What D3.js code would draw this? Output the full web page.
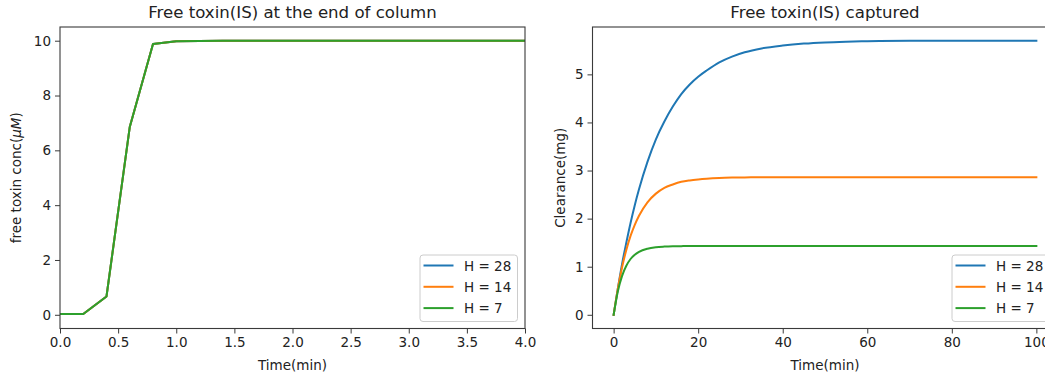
<!DOCTYPE html>
<html>
<head>
<meta charset="utf-8">
<script src="https://cdn.jsdelivr.net/npm/d3@7"></script>
<style>
  html, body { margin: 0; padding: 0; background: #fff; }
  svg { display: block; font-family: "DejaVu Sans", sans-serif; }
</style>
</head>
<body>
<svg id="chart" width="1045" height="377"></svg>
<script>
// ---------------- data ----------------
const seriesNames = ["H = 28", "H = 14", "H = 7"];
const seriesColors = ["#1f77b4", "#ff7f0e", "#2ca02c"];

// Left panel: free toxin concentration at the end of column
const leftTime = [0, 0.2, 0.4, 0.6, 0.8, 1.0, 1.2, 1.4, 1.6, 1.8, 2.0, 2.2, 2.4, 2.6, 2.8, 3.0, 3.2, 3.4, 3.6, 3.8, 4.0];
const leftH28 = [0.03, 0.03, 0.67, 6.85, 9.88, 9.98, 9.99, 10.0, 10.0, 10.0, 10.0, 10.0, 10.0, 10.0, 10.0, 10.0, 10.0, 10.0, 10.0, 10.0, 10.0];
const leftH14 = [0.03, 0.03, 0.67, 6.85, 9.88, 9.98, 9.99, 10.0, 10.0, 10.0, 10.0, 10.0, 10.0, 10.0, 10.0, 10.0, 10.0, 10.0, 10.0, 10.0, 10.0];
const leftH7  = [0.03, 0.03, 0.67, 6.85, 9.88, 9.98, 9.99, 10.0, 10.0, 10.0, 10.0, 10.0, 10.0, 10.0, 10.0, 10.0, 10.0, 10.0, 10.0, 10.0, 10.0];
const leftXTicks = [0, 0.5, 1.0, 1.5, 2.0, 2.5, 3.0, 3.5, 4.0];
const leftYTicks = [0, 2, 4, 6, 8, 10];

// Right panel: free toxin captured (clearance)
const rightTime = [0, 1, 2, 3, 4, 5, 6, 8, 10, 12, 14, 16, 18, 20, 22, 25, 28, 31, 35, 40, 45, 50, 55, 60, 70, 80, 90, 100];
const clearH28 = [0, 0.55, 1.06, 1.50, 1.91, 2.28, 2.61, 3.18, 3.65, 4.02, 4.33, 4.59, 4.79, 4.95, 5.08, 5.25, 5.37, 5.46, 5.54, 5.60, 5.64, 5.665, 5.68, 5.69, 5.70, 5.70, 5.70, 5.70];
const clearH14 = [0, 0.55, 0.99, 1.35, 1.64, 1.87, 2.06, 2.34, 2.52, 2.64, 2.71, 2.765, 2.795, 2.815, 2.83, 2.845, 2.853, 2.857, 2.86, 2.86, 2.86, 2.86, 2.86, 2.86, 2.86, 2.86, 2.86, 2.86];
const clearH7  = [0, 0.49, 0.81, 1.02, 1.16, 1.25, 1.31, 1.375, 1.405, 1.418, 1.425, 1.428, 1.43, 1.43, 1.43, 1.43, 1.43, 1.43, 1.43, 1.43, 1.43, 1.43, 1.43, 1.43, 1.43, 1.43, 1.43, 1.43];
const rightXTicks = [0, 20, 40, 60, 80, 100];
const rightYTicks = [0, 1, 2, 3, 4, 5];

// ---------------- drawing ----------------
const svg = d3.select("#chart");
const TICK_FS = 13.5, TITLE_FS = 16.6;
const textColor = "#222222", spineColor = "#3a3a3a";

function panel(cfg) {
  const g = svg.append("g");
  const x = d3.scaleLinear().domain(cfg.xDomain).range([cfg.left, cfg.right]);
  const y = d3.scaleLinear().domain(cfg.yDomain).range([cfg.bottom, cfg.top]);

  const clipId = "clip" + cfg.id;
  svg.append("clipPath").attr("id", clipId).append("rect")
    .attr("x", cfg.left).attr("y", cfg.top)
    .attr("width", cfg.right - cfg.left).attr("height", cfg.bottom - cfg.top);

  // lines
  const line = d3.line().x(d => x(d[0])).y(d => y(d[1])).curve(cfg.curve);
  cfg.series.forEach((vals, i) => {
    g.append("path")
      .datum(cfg.xs.map((t, k) => [t, vals[k]]))
      .attr("clip-path", `url(#${clipId})`)
      .attr("fill", "none")
      .attr("stroke", seriesColors[i])
      .attr("stroke-width", 2)
      .attr("stroke-linejoin", "round")
      .attr("stroke-linecap", "square")
      .attr("d", line);
  });

  // axes
  const xa = g.append("g").attr("transform", `translate(0,${cfg.bottom})`)
    .call(d3.axisBottom(x).tickValues(cfg.xTicks).tickFormat(cfg.xFmt).tickSize(5).tickPadding(4));
  const ya = g.append("g").attr("transform", `translate(${cfg.left},0)`)
    .call(d3.axisLeft(y).tickValues(cfg.yTicks).tickFormat(cfg.yFmt).tickSize(5).tickPadding(4));
  [xa, ya].forEach(a => {
    a.select(".domain").remove();
    a.selectAll(".tick line").attr("stroke", spineColor).attr("stroke-width", 1);
    a.selectAll(".tick text").attr("font-size", TICK_FS).attr("font-family", "DejaVu Sans").attr("fill", textColor);
  });

  // frame
  g.append("rect")
    .attr("x", cfg.left).attr("y", cfg.top)
    .attr("width", cfg.right - cfg.left).attr("height", cfg.bottom - cfg.top)
    .attr("fill", "none").attr("stroke", spineColor).attr("stroke-width", 1.1);

  // title
  g.append("text")
    .attr("x", (cfg.left + cfg.right) / 2).attr("y", 18)
    .attr("text-anchor", "middle").attr("font-size", TITLE_FS).attr("fill", textColor)
    .text(cfg.title);

  // x label
  g.append("text")
    .attr("x", (cfg.left + cfg.right) / 2).attr("y", 369.5)
    .attr("text-anchor", "middle").attr("font-size", TICK_FS).attr("fill", textColor)
    .text("Time(min)");

  // y label
  const yl = g.append("text")
    .attr("transform", `translate(${cfg.yLabelX},${(cfg.top + cfg.bottom) / 2}) rotate(-90)`)
    .attr("text-anchor", "middle").attr("font-size", TICK_FS).attr("fill", textColor);
  cfg.yLabel.forEach(part => {
    yl.append("tspan").attr("font-style", part.italic ? "italic" : "normal").text(part.t);
  });

  // legend
  const lg = g.append("g").attr("transform", `translate(${cfg.legendX},${cfg.legendY})`);
  lg.append("rect").attr("x", 0).attr("y", 0).attr("width", 97.5).attr("height", 66.5)
    .attr("rx", 3).attr("ry", 3)
    .attr("fill", "#fff").attr("fill-opacity", 0.8)
    .attr("stroke", "#cccccc").attr("stroke-width", 1);
  seriesNames.forEach((name, i) => {
    const cy = 10.5 + i * 21.3;
    lg.append("line").attr("x1", 3.5).attr("x2", 33.5).attr("y1", cy).attr("y2", cy)
      .attr("stroke", seriesColors[i]).attr("stroke-width", 2);
    lg.append("text").attr("x", 44).attr("y", cy + 5)
      .attr("font-size", TICK_FS).attr("fill", textColor).text(name);
  });
}

const axTop = 27, axBottom = 328.5;

panel({
  id: "L",
  left: 60, right: 525, top: axTop, bottom: axBottom,
  xDomain: [0, 4], yDomain: [-0.5, 10.5],
  xs: leftTime, series: [leftH28, leftH14, leftH7],
  curve: d3.curveLinear,
  xTicks: leftXTicks, yTicks: leftYTicks,
  xFmt: d3.format(".1f"), yFmt: d3.format("d"),
  title: "Free toxin(IS) at the end of column",
  yLabel: [{t: "free toxin conc("}, {t: "μM", italic: true}, {t: ")"}],
  yLabelX: 21,
  legendX: 420, legendY: 255
});

panel({
  id: "R",
  left: 592.5, right: 1057.5, top: axTop, bottom: axBottom,
  xDomain: [-5, 105], yDomain: [-0.285, 5.985],
  xs: rightTime, series: [clearH28, clearH14, clearH7],
  curve: d3.curveMonotoneX,
  xTicks: rightXTicks, yTicks: rightYTicks,
  xFmt: d3.format("d"), yFmt: d3.format("d"),
  title: "Free toxin(IS) captured",
  yLabel: [{t: "Clearance(mg)"}],
  yLabelX: 565,
  legendX: 952, legendY: 255
});
</script>
</body>
</html>
